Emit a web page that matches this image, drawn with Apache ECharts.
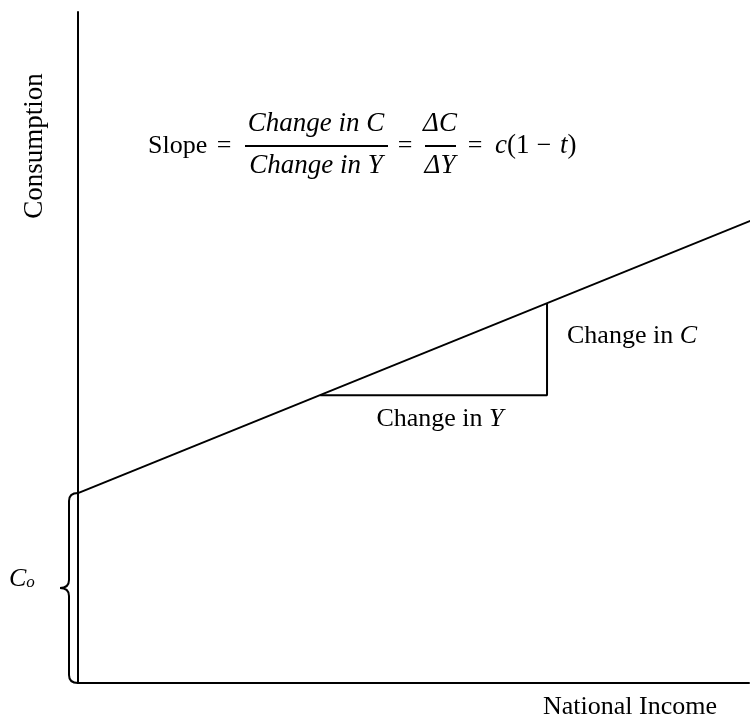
<!DOCTYPE html>
<html>
<head>
<meta charset="utf-8">
<script src="https://cdn.jsdelivr.net/npm/echarts@6/dist/echarts.min.js"></script>
<style>
  html, body { margin: 0; padding: 0; background: #fff; }
  #main { width: 755px; height: 719px; }
</style>
</head>
<body>
<div id="main"></div>
<script>
// consumption function and the slope triangle, in axis units (0..100)
var autonomous = 28.3;          // C_o, intercept on the y axis
var consumptionLine = [[0, 28.3], [101, 69.2]];
var slopeTriangle = [[36.1, 42.9], [69.9, 42.9], [69.9, 56.6]];

var serif = 'Liberation Serif, Times New Roman, serif';
var chart = echarts.init(document.getElementById('main'));

function txt(x, y, s, font, align, extra) {
    var style = { text: s, font: font, fill: '#000', align: align || 'left', verticalAlign: 'middle' };
    if (extra) style.rich = extra;
    return { type: 'text', x: x, y: y, style: style };
}

var option = {
    backgroundColor: '#fff',
    animation: false,
    grid: { left: 78, right: 6, top: 12, bottom: 36 },
    xAxis: {
        type: 'value', min: 0, max: 100,
        axisLine: { show: true, onZero: false, lineStyle: { color: '#000', width: 2 } },
        axisTick: { show: false }, axisLabel: { show: false }, splitLine: { show: false }
    },
    yAxis: {
        type: 'value', min: 0, max: 100,
        axisLine: { show: true, onZero: false, lineStyle: { color: '#000', width: 2 } },
        axisTick: { show: false }, axisLabel: { show: false }, splitLine: { show: false }
    },
    series: [
        {
            type: 'line',
            data: consumptionLine,
            clip: false,
            symbol: 'none',
            lineStyle: { color: '#000', width: 2 }
        },
        {
            type: 'line',
            data: slopeTriangle,
            symbol: 'none',
            lineStyle: { color: '#000', width: 2 }
        },
        {
            // curly brace marking C_o along the y axis
            type: 'custom',
            clip: false,
            data: [[0, autonomous]],
            renderItem: function (params, api) {
                var top = api.coord([0, api.value(1)]);
                var bot = api.coord([0, 0]);
                var x = top[0], y0 = top[1], y1 = bot[1];
                var mid = (y0 + y1) / 2;
                var d = 9, tip = 18, r = 8;
                var path = 'M' + x + ' ' + y0 +
                    ' Q' + (x - d) + ' ' + y0 + ' ' + (x - d) + ' ' + (y0 + r) +
                    ' L' + (x - d) + ' ' + (mid - r) +
                    ' Q' + (x - d) + ' ' + mid + ' ' + (x - tip) + ' ' + mid +
                    ' Q' + (x - d) + ' ' + mid + ' ' + (x - d) + ' ' + (mid + r) +
                    ' L' + (x - d) + ' ' + (y1 - r) +
                    ' Q' + (x - d) + ' ' + y1 + ' ' + x + ' ' + y1;
                return {
                    type: 'path',
                    shape: { pathData: path },
                    style: { fill: null, stroke: '#000', lineWidth: 2 }
                };
            }
        }
    ],
    graphic: [
        { type: 'text', x: 35, y: 146, rotation: Math.PI / 2,
          style: { text: 'Consumption', font: '27px ' + serif, fill: '#000', align: 'center', verticalAlign: 'middle' } },
        txt(543, 707, 'National Income', '26px ' + serif),
        txt(567, 336, 'Change in {i|C}', '26px ' + serif, 'left', { i: { font: 'italic 26px ' + serif } }),
        txt(440, 419, 'Change in {i|Y}', '26px ' + serif, 'center', { i: { font: 'italic 26px ' + serif } }),
        txt(9, 579, '{c|C}{o|o}', '24px ' + serif, 'left',
            { c: { font: 'italic 26px ' + serif }, o: { font: 'italic 17px ' + serif, padding: [8, 0, 0, 0] } }),
        // slope formula
        txt(148, 146, 'Slope', '26px ' + serif),
        txt(224, 146, '=', '26px ' + serif, 'center'),
        txt(316, 124, 'Change in C', 'italic 27px ' + serif, 'center'),
        { type: 'rect', shape: { x: 245, y: 145, width: 143, height: 2 }, style: { fill: '#000' } },
        txt(316, 166, 'Change in Y', 'italic 27px ' + serif, 'center'),
        txt(405, 146, '=', '26px ' + serif, 'center'),
        txt(440, 124, 'ΔC', 'italic 27px ' + serif, 'center'),
        { type: 'rect', shape: { x: 425, y: 145, width: 31, height: 2 }, style: { fill: '#000' } },
        txt(440, 166, 'ΔY', 'italic 27px ' + serif, 'center'),
        txt(475, 146, '=', '26px ' + serif, 'center'),
        txt(495, 146, '{i|c}(1', '27px ' + serif, 'left', { i: { font: 'italic 27px ' + serif } }),
        txt(544, 146, '−', '26px ' + serif, 'center'),
        txt(560, 146, '{i|t})', '27px ' + serif, 'left', { i: { font: 'italic 27px ' + serif } })
    ]
};
chart.setOption(option);
</script>
</body>
</html>
